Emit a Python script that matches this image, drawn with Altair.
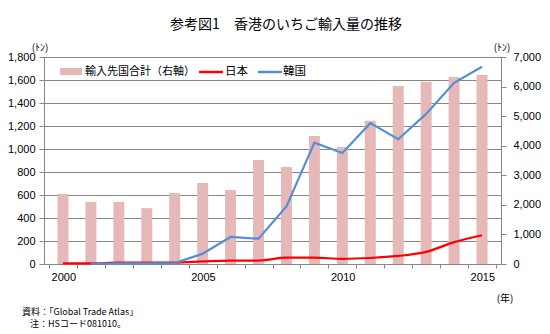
import altair as alt
import pandas as pd

# ---- data ----
years = list(range(2000, 2016))
total = [2370, 2100, 2100, 1890, 2400, 2740, 2500, 3520, 3280, 4330, 3960, 4840, 6020, 6160, 6320, 6390]
japan = [5, 5, 12, 12, 12, 22, 30, 30, 55, 55, 45, 52, 70, 105, 190, 250]
korea = [None, 2, 5, 5, 8, 90, 235, 220, 500, 1055, 965, 1225, 1085, 1305, 1575, 1715]
left_ticks = [0, 200, 400, 600, 800, 1000, 1200, 1400, 1600, 1800]
right_ticks = [0, 1000, 2000, 3000, 4000, 5000, 6000, 7000]
x_labels = [2000, 2005, 2010, 2015]

title_text = "参考図1　香港のいちご輸入量の推移"
legend_labels = ["輸入先国合計（右軸）", "日本", "韓国"]
unit_text = "(ﾄﾝ)"
year_unit = "(年)"
note1 = "資料：「Global Trade Atlas」"
note2 = "注：HSコード081010。"

# ---- styles ----
W, H = 457, 207
BAR = "#E6B9B8"
RED = "#FF0000"
BLUE = "#558ED5"
GRID = "#868686"
JP = "Noto Sans CJK JP"
NUM = "Liberation Sans"

df_total = pd.DataFrame({"year": years, "total": total})
df_jp = pd.DataFrame({"year": years, "v": japan})
df_kr = pd.DataFrame({"year": years, "v": korea}).dropna()

band = W / len(years)
boundaries = [y - 0.5 for y in years] + [years[-1] + 0.5]
label_set = ",".join(str(v) for v in x_labels)

x_axis = alt.Axis(
    values=boundaries,
    labelExpr=f"indexof([{label_set}], round(datum.value + 0.5)) >= 0 ? format(datum.value + 0.5, 'd') : ''",
    labelOffset=band / 2,
    labelOverlap=False,
    labelFlush=False,
    tickSize=4,
    labelPadding=3,
    grid=False,
    title=None,
    domainColor=GRID,
    tickColor=GRID,
    labelFont=NUM,
    labelFontSize=11,
    labelColor="black",
)
x_scale = alt.Scale(domain=[years[0] - 0.5, years[-1] + 0.5], nice=False, zero=False)
x_enc = alt.X("year:Q", scale=x_scale, axis=x_axis)

bars = alt.Chart(df_total).mark_bar(color=BAR, size=11).encode(
    x=x_enc,
    y=alt.Y(
        "total:Q",
        scale=alt.Scale(domain=[0, 7000], nice=False),
        axis=alt.Axis(
            orient="right",
            values=right_ticks,
            format=",d",
            grid=False,
            title=None,
            tickSize=5,
            labelPadding=7,
            labelOverlap=False,
            domainColor=GRID,
            tickColor=GRID,
            labelFont=NUM,
            labelFontSize=11,
            labelColor="black",
        ),
    ),
)

y_left = alt.Y(
    "v:Q",
    scale=alt.Scale(domain=[0, 1800], nice=False),
    axis=alt.Axis(
        orient="left",
        values=left_ticks,
        format=",d",
        grid=True,
        gridColor=GRID,
        gridWidth=1,
        title=None,
        tickSize=5,
        labelPadding=4,
        labelOverlap=False,
        domainColor=GRID,
        tickColor=GRID,
        labelFont=NUM,
        labelFontSize=11,
        labelColor="black",
    ),
)

line_jp = alt.Chart(df_jp).mark_line(color=RED, strokeWidth=2.2, interpolate="monotone").encode(x=x_enc, y=y_left)
line_kr = alt.Chart(df_kr).mark_line(color=BLUE, strokeWidth=2.2).encode(x=x_enc, y=y_left)
lines = alt.layer(line_jp, line_kr)


def label(text, x, y, size=11, align="left", font=JP):
    return alt.Chart(pd.DataFrame({"t": [text]})).mark_text(
        align=align, baseline="middle", fontSize=size, font=font, color="black"
    ).encode(text="t:N", x=alt.value(x), y=alt.value(y))


one = pd.DataFrame({"k": [0]})
leg_rect = alt.Chart(one).mark_rect(color=BAR).encode(
    x=alt.value(16), x2=alt.value(38), y=alt.value(11), y2=alt.value(18)
)
leg_red = alt.Chart(one).mark_rule(color=RED, strokeWidth=2.5).encode(
    x=alt.value(155), x2=alt.value(179), y=alt.value(15)
)
leg_blue = alt.Chart(one).mark_rule(color=BLUE, strokeWidth=2.5).encode(
    x=alt.value(214), x2=alt.value(238), y=alt.value(15)
)

texts = [
    label(title_text, 242, -32, size=14, align="center"),
    label(legend_labels[0], 41, 15, size=11),
    label(legend_labels[1], 181, 15, size=11.5),
    label(legend_labels[2], 239, 15, size=11.5),
    label(unit_text, -4, -9, size=10, align="center"),
    label(unit_text, 458, -9, size=10, align="center"),
    label(year_unit, 461, 242, size=10, align="center"),
    label(note1, -22, 254.5, size=9),
    label(note2, -14, 267, size=9),
]

chart = (
    alt.layer(bars, lines, leg_rect, leg_red, leg_blue, *texts)
    .resolve_scale(y="independent")
    .properties(
        width=W,
        height=H,
        autosize=alt.AutoSizeParams(type="none"),
        padding={"left": 44, "top": 57, "right": 49, "bottom": 70},
        background="white",
    )
    .configure_view(stroke=None)
    .configure_axis(labelOverlap=False)
)

chart.save("out.html", embed_options={"renderer": "svg", "actions": False})
